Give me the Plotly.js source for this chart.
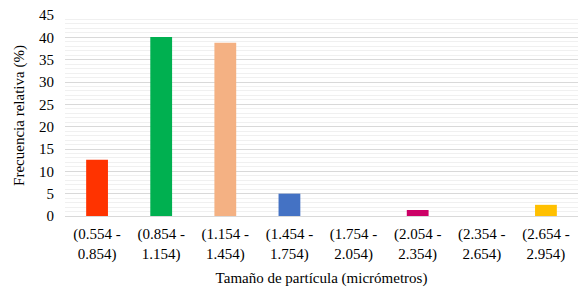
<!DOCTYPE html>
<html>
<head>
<meta charset="utf-8">
<script src="https://cdn.plot.ly/plotly-3.0.1.min.js"></script>
<style>html,body{margin:0;padding:0;background:#fff;}#chart{width:586px;height:294px;}</style>
</head>
<body>
<div id="chart"></div>
<script>
const categories = ["(0.554 -<br>0.854)", "(0.854 -<br>1.154)", "(1.154 -<br>1.454)", "(1.454 -<br>1.754)", "(1.754 -<br>2.054)", "(2.054 -<br>2.354)", "(2.354 -<br>2.654)", "(2.654 -<br>2.954)"];
const values = [12.6, 40.1, 38.8, 5.0, 0, 1.35, 0, 2.5];
const barColors = ["#FF3300", "#00B050", "#F4B183", "#4472C4", "#A5A5A5", "#CC0066", "#A5A5A5", "#FFC000"];
const yTicks = [0, 5, 10, 15, 20, 25, 30, 35, 40, 45];

const font = {family: "Liberation Serif, Times New Roman, serif", size: 15, color: "#000"};

Plotly.newPlot("chart", [{
  type: "bar",
  x: categories,
  y: values,
  marker: {color: barColors},
  hoverinfo: "none"
}], {
  width: 586, height: 294,
  margin: {l: 65, r: 8, t: 15, b: 78},
  paper_bgcolor: "#fff", plot_bgcolor: "#fff",
  font: font,
  bargap: 0.66,
  showlegend: false,
  xaxis: {
    tickfont: font,
    showgrid: false,
    showline: true, linecolor: "#D9D9D9", linewidth: 1,
    zeroline: false,
    ticks: "",
    ticklabelstandoff: 4,
    title: {text: "Tamaño de partícula (micrómetros)", font: font, standoff: 10}
  },
  yaxis: {
    range: [0, 45],
    tickvals: yTicks,
    tickfont: font,
    showgrid: true, gridcolor: "#D9D9D9", gridwidth: 1,
    zeroline: false,
    ticks: "",
    ticklabelstandoff: 10,
    minor: {dtick: 1, showgrid: true, gridcolor: "#F0F0F0", gridwidth: 1, ticks: ""},
    title: {text: "Frecuencia relativa (%)", font: font, standoff: 10}
  }
}, {staticPlot: true, displayModeBar: false});
</script>
</body>
</html>
